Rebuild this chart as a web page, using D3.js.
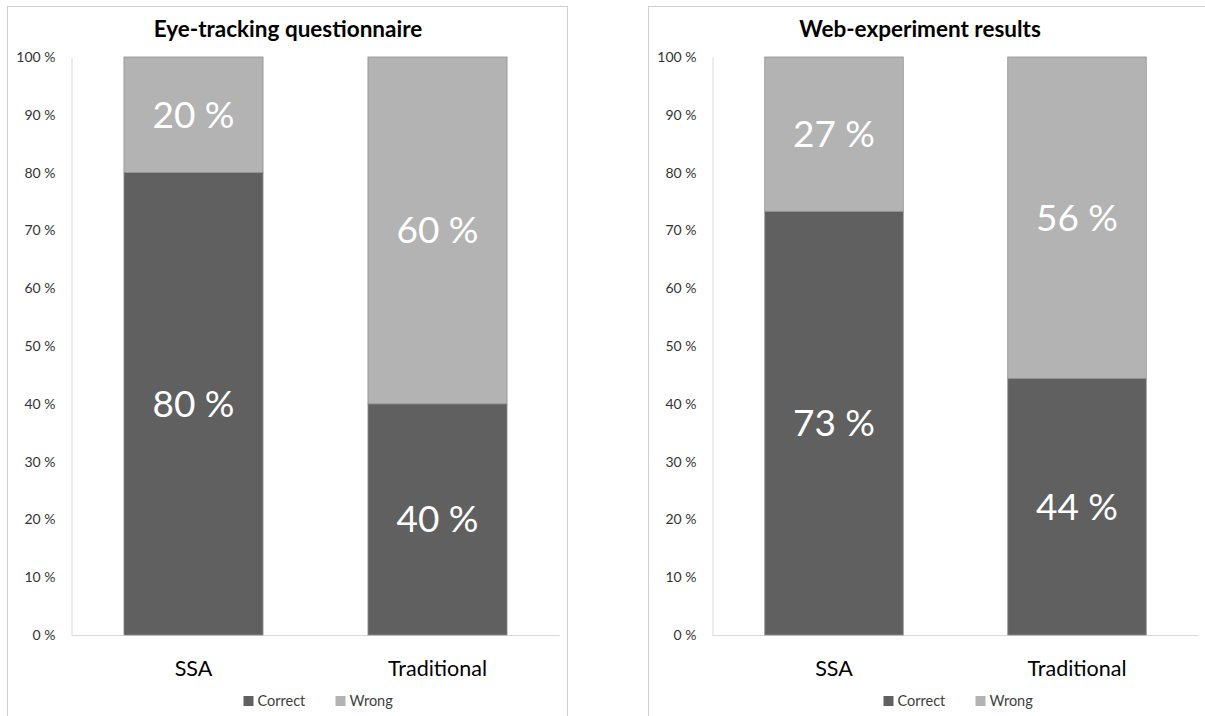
<!DOCTYPE html>
<html><head><meta charset="utf-8">
<script src="https://cdn.jsdelivr.net/npm/d3@7"></script>
<style>body{margin:0;background:#fff}svg{display:block;font-family:Lato,"Open Sans",sans-serif}</style>
</head><body><svg id="c" width="1205" height="716"></svg>
<script>
const categories = ["SSA", "Traditional"];
const seriesNames = ["Correct", "Wrong"];
const titles = ["Eye-tracking questionnaire", "Web-experiment results"];
const eyeCorrect = [80, 40];
const eyeWrong = [20, 60];
const webCorrect = [73.3, 44.4];
const webWrong = [26.7, 55.6];
const yTicks = [0,10,20,30,40,50,60,70,80,90,100];
const colors = ["#606060", "#b3b3b3"];

const svg = d3.select("#c");
const panels = [
  {title: titles[0], correct: eyeCorrect, wrong: eyeWrong, box:[7,6,560,720], plot:[71.5,559.5], tx:288},
  {title: titles[1], correct: webCorrect, wrong: webWrong, box:[648,6,600,720], plot:[712.5,1198.5], tx:920}
];
const y = d3.scaleLinear().domain([0,100]).range([635,57]);

panels.forEach(p => {
  const g = svg.append("g");
  g.append("rect").attr("x",p.box[0]+0.5).attr("y",p.box[1]+0.5).attr("width",p.box[2]).attr("height",p.box[3])
    .attr("fill","#fff").attr("stroke","#d0d0d0").attr("stroke-width",1);
  const x = d3.scaleBand().domain(categories).range(p.plot).paddingInner(0.43).paddingOuter(0.215);
  g.append("text").attr("x",p.tx).attr("y",37)
    .attr("text-anchor","middle").attr("font-weight","bold").attr("font-size",22.5).attr("fill","#000").text(p.title);
  const ax = g.append("g").attr("transform",`translate(${p.plot[0]},0)`)
    .call(d3.axisLeft(y).tickValues(yTicks).tickSize(0).tickPadding(16).tickFormat(d=>d+" %"));
  ax.select(".domain").attr("stroke","#d9d9d9");
  ax.selectAll("text").attr("font-size",14).attr("fill","#333").attr("font-family","Lato,sans-serif");
  g.append("line").attr("x1",p.plot[0]).attr("x2",p.plot[1]).attr("y1",y(0)+0.5).attr("y2",y(0)+0.5).attr("stroke","#d9d9d9");
  const stack = categories.map((c,i)=>({c, segs:[{s:0,v0:0,v1:p.correct[i]},{s:1,v0:p.correct[i],v1:p.correct[i]+p.wrong[i]}]}));
  stack.forEach(d => {
    d.segs.forEach(s => {
      g.append("rect").attr("x",x(d.c)).attr("width",x.bandwidth())
        .attr("y",y(s.v1)).attr("height",y(s.v0)-y(s.v1))
        .attr("fill",colors[s.s]).attr("stroke","#8f8f8f").attr("stroke-width",0.8);
    });
    d.segs.forEach(s => {
      g.append("text").attr("x",x(d.c)+x.bandwidth()/2).attr("y",y((s.v0+s.v1)/2))
        .attr("dy","0.35em").attr("text-anchor","middle").attr("font-size",37).attr("fill","#fff")
        .text(Math.round(s.v1-s.v0)+" %");
    });
    g.append("text").attr("x",x(d.c)+x.bandwidth()/2).attr("y",668).attr("dy","0.35em")
      .attr("text-anchor","middle").attr("font-size",21.5).attr("fill","#000").text(d.c);
  });
  const lc = (p.plot[0]+p.plot[1])/2;
  const lg = g.append("g").attr("transform",`translate(${lc-72},701)`);
  seriesNames.forEach((n,i)=>{
    const off = i*92;
    lg.append("rect").attr("x",off).attr("y",-5).attr("width",10).attr("height",10).attr("fill",colors[i]);
    lg.append("text").attr("x",off+14).attr("y",0).attr("dy","0.35em").attr("font-size",14.5).attr("fill","#404040").text(n);
  });
});
</script></body></html>
